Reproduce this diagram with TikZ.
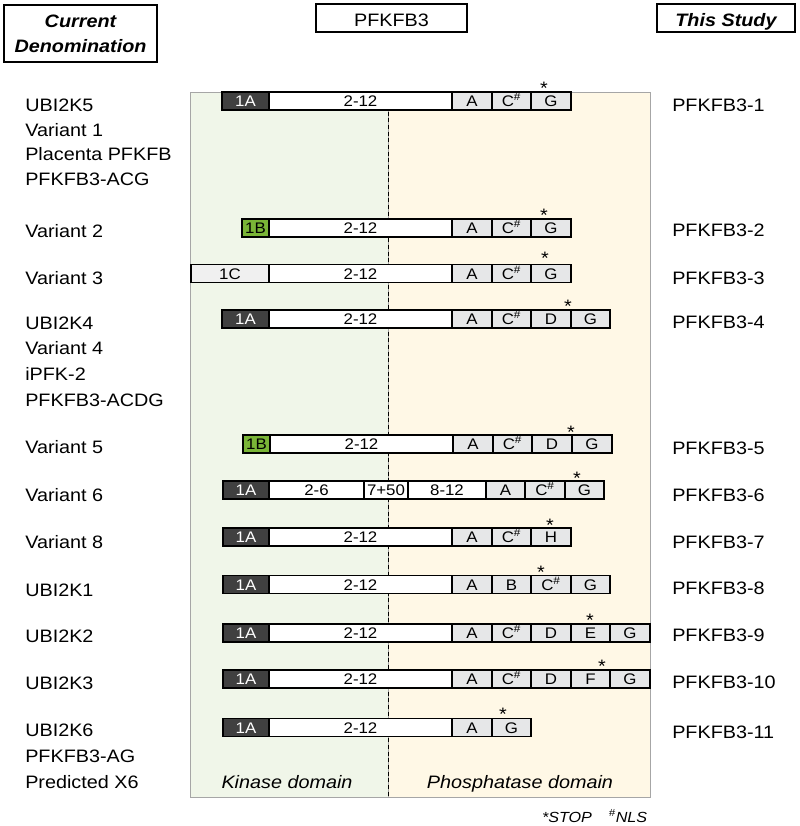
\documentclass[tikz,border=0pt]{standalone}
\usepackage{fontspec}
\setmainfont{Liberation Sans}[FakeStretch=1.1]
\usetikzlibrary{positioning}
\definecolor{kinbg}{RGB}{240,246,233}
\definecolor{phosbg}{RGB}{255,248,230}
\definecolor{exdark}{RGB}{64,64,64}
\definecolor{exgreen}{RGB}{122,181,55}
\definecolor{exgray}{RGB}{230,231,232}
\definecolor{exlight}{RGB}{240,240,240}
\tikzset{
  exon/.style={draw=black, line width=0.9pt, minimum height=13.5pt, inner sep=0pt, font=\fontsize{11.5}{12}\selectfont, text height=8.3pt, text depth=0pt},
  darkexon/.style={exon, fill=exdark, text=white},
  greenexon/.style={exon, fill=exgreen},
  lightexon/.style={exon, fill=exlight},
  coreexon/.style={exon, fill=white},
  altexon/.style={exon, fill=exgray},
  namelabel/.style={anchor=base west, inner sep=0pt, align=left, font=\fontsize{13.5}{18.5}\selectfont},
  stopmark/.style={inner sep=0pt, font=\fontsize{13.5}{14}\selectfont},
  headbox/.style={draw=black, line width=1pt, inner sep=0pt, align=center, font=\fontsize{13.5}{18.75}\selectfont},
  domainbox/.style={draw=gray!70, minimum height=528.75pt, inner sep=0pt},
  domainlabel/.style={anchor=base, inner sep=0pt, font=\fontsize{13.5}{15}\selectfont\itshape},
  footnote/.style={anchor=base, inner sep=0pt, font=\fontsize{11}{12}\selectfont\itshape}
}
\newcommand{\nls}{\textsuperscript{\#}}
\newcommand{\stopstar}{\raisebox{-0.42em}[0.3em][0pt]{*}}
% name, style, left x, right x, y, text
\newcommand{\exon}[6]{\node[#2, minimum width={((#4)-(#3))*0.75pt}] (#1) at ({((#3)+(#4))/2},#5) {#6};}

\begin{document}
\begin{tikzpicture}[x=0.75pt, y=-0.75pt]
  \useasboundingbox (0,0) rectangle (800,826);
  % headers
  \node[headbox, minimum width=114.75pt, minimum height=42.75pt, font=\fontsize{13.5}{18.75}\selectfont\bfseries\itshape] (curhead) at (80.5,33.5) {Current\\Denomination};
  \node[headbox, minimum width=113.25pt, minimum height=21pt, text height=12.5pt, text depth=0pt] (genehead) at (391.5,18) {PFKFB3};
  \node[headbox, minimum width=103.5pt, minimum height=21pt, text height=12.5pt, text depth=0pt, font=\fontsize{13.5}{18.75}\selectfont\bfseries\itshape] (studyhead) at (726,18) {This Study};

  % domains
  \node[domainbox, fill=kinbg, minimum width=148.5pt] (kin) at (289,444.5) {};
  \node[domainbox, fill=phosbg, minimum width=196.5pt] (phos) at (519,444.5) {};
  \draw[line width=0.9pt, dash pattern=on 3pt off 2pt] (kin.north east) -- (kin.south east);
  \node[domainlabel] (kinlab) at (287,788) {Kinase domain};
  \node[domainlabel] (phoslab) at (520,788) {Phosphatase domain};

  % row 1
  \exon{a1}{darkexon}{222}{269}{101}{1A} \exon{b1}{coreexon}{269}{452}{101}{2-12}
  \exon{c1}{altexon}{452}{492}{101}{A} \exon{d1}{altexon}{492}{531}{101}{C\nls} \exon{e1}{altexon}{531}{571}{101}{G}
  \node[stopmark] (s1) at (544,84) {\stopstar};
  % row 2
  \exon{a2}{greenexon}{242}{269}{228}{1B} \exon{b2}{coreexon}{269}{452}{228}{2-12}
  \exon{c2}{altexon}{452}{492}{228}{A} \exon{d2}{altexon}{492}{531}{228}{C\nls} \exon{e2}{altexon}{531}{571}{228}{G}
  \node[stopmark] (s2) at (544,211) {\stopstar};
  % row 3
  \exon{a3}{lightexon}{191}{269}{273.5}{1C} \exon{b3}{coreexon}{269}{452}{273.5}{2-12}
  \exon{c3}{altexon}{452}{492}{273.5}{A} \exon{d3}{altexon}{492}{531}{273.5}{C\nls} \exon{e3}{altexon}{531}{571}{273.5}{G}
  \node[stopmark] (s3) at (545,254) {\stopstar};
  % row 4
  \exon{a4}{darkexon}{222}{269}{319}{1A} \exon{b4}{coreexon}{269}{452}{319}{2-12}
  \exon{c4}{altexon}{452}{492}{319}{A} \exon{d4}{altexon}{492}{531}{319}{C\nls} \exon{e4}{altexon}{531}{571}{319}{D}
  \exon{f4}{altexon}{571}{610}{319}{G}
  \node[stopmark] (s4) at (568,302) {\stopstar};
  % row 5
  \exon{a5}{greenexon}{243}{270}{444}{1B} \exon{b5}{coreexon}{270}{453}{444}{2-12}
  \exon{c5}{altexon}{453}{493}{444}{A} \exon{d5}{altexon}{493}{532}{444}{C\nls} \exon{e5}{altexon}{532}{572}{444}{D}
  \exon{f5}{altexon}{572}{612}{444}{G}
  \node[stopmark] (s5) at (571,428) {\stopstar};
  % row 6
  \exon{a6}{darkexon}{223}{269}{490}{1A} \exon{b6}{coreexon}{269}{364}{490}{2-6}
  \exon{g6}{coreexon}{364}{408}{490}{7+50} \exon{h6}{coreexon}{408}{486}{490}{8-12}
  \exon{c6}{altexon}{486}{525}{490}{A} \exon{d6}{altexon}{525}{565}{490}{C\nls} \exon{e6}{altexon}{565}{604}{490}{G}
  \node[stopmark] (s6) at (577,474) {\stopstar};
  % row 7
  \exon{a7}{darkexon}{223}{269}{537}{1A} \exon{b7}{coreexon}{269}{452}{537}{2-12}
  \exon{c7}{altexon}{452}{492}{537}{A} \exon{d7}{altexon}{492}{531}{537}{C\nls} \exon{e7}{altexon}{531}{571}{537}{H}
  \node[stopmark] (s7) at (550,521) {\stopstar};
  % row 8
  \exon{a8}{darkexon}{223}{269}{584.5}{1A} \exon{b8}{coreexon}{269}{452}{584.5}{2-12}
  \exon{c8}{altexon}{452}{492}{584.5}{A} \exon{d8}{altexon}{492}{531}{584.5}{B} \exon{e8}{altexon}{531}{571}{584.5}{C\nls}
  \exon{f8}{altexon}{571}{610}{584.5}{G}
  \node[stopmark] (s8) at (541,568) {\stopstar};
  % row 9
  \exon{a9}{darkexon}{223}{269}{633}{1A} \exon{b9}{coreexon}{269}{452}{633}{2-12}
  \exon{c9}{altexon}{452}{492}{633}{A} \exon{d9}{altexon}{492}{531}{633}{C\nls} \exon{e9}{altexon}{531}{571}{633}{D}
  \exon{f9}{altexon}{571}{610}{633}{E} \exon{g9}{altexon}{610}{650}{633}{G}
  \node[stopmark] (s9) at (590,616) {\stopstar};
  % row 10
  \exon{a10}{darkexon}{223}{269}{679}{1A} \exon{b10}{coreexon}{269}{452}{679}{2-12}
  \exon{c10}{altexon}{452}{492}{679}{A} \exon{d10}{altexon}{492}{531}{679}{C\nls} \exon{e10}{altexon}{531}{571}{679}{D}
  \exon{f10}{altexon}{571}{610}{679}{F} \exon{g10}{altexon}{610}{650}{679}{G}
  \node[stopmark] (s10) at (602,662) {\stopstar};
  % row 11
  \exon{a11}{darkexon}{223}{269}{727.5}{1A} \exon{b11}{coreexon}{269}{452}{727.5}{2-12}
  \exon{c11}{altexon}{452}{492}{727.5}{A} \exon{d11}{altexon}{492}{531}{727.5}{G}
  \node[stopmark] (s11) at (503,710) {\stopstar};

  % current names (multi-line: base = last line)
  \node[namelabel] (cur1) at (25,185.4) {UBI2K5\\Variant 1\\Placenta PFKFB\\PFKFB3-ACG};
  \node[namelabel] (cur2) at (25,237.5) {Variant 2};
  \node[namelabel] (cur3) at (25,284.5) {Variant 3};
  \node[namelabel, font=\fontsize{13.5}{19.2}\selectfont] (cur4) at (25,406) {UBI2K4\\Variant 4\\iPFK-2\\PFKFB3-ACDG};
  \node[namelabel] (cur5) at (25,453.5) {Variant 5};
  \node[namelabel] (cur6) at (25,501) {Variant 6};
  \node[namelabel] (cur7) at (25,548.5) {Variant 8};
  \node[namelabel] (cur8) at (25,596) {UBI2K1};
  \node[namelabel] (cur9) at (25,642.5) {UBI2K2};
  \node[namelabel] (cur10) at (25,689.5) {UBI2K3};
  \node[namelabel, font=\fontsize{13.5}{19.5}\selectfont] (cur11) at (25,788) {UBI2K6\\PFKFB3-AG\\Predicted X6};

  % new names
  \node[namelabel] (new1) at (672,111.4) {PFKFB3-1};
  \node[namelabel] (new2) at (672,236.4) {PFKFB3-2};
  \node[namelabel] (new3) at (672,284.4) {PFKFB3-3};
  \node[namelabel] (new4) at (672,328.4) {PFKFB3-4};
  \node[namelabel] (new5) at (672,454.4) {PFKFB3-5};
  \node[namelabel] (new6) at (672,501.4) {PFKFB3-6};
  \node[namelabel] (new7) at (672,548.4) {PFKFB3-7};
  \node[namelabel] (new8) at (672,594.4) {PFKFB3-8};
  \node[namelabel] (new9) at (672,641.4) {PFKFB3-9};
  \node[namelabel] (new10) at (672,688.4) {PFKFB3-10};
  \node[namelabel] (new11) at (672,738.4) {PFKFB3-11};

  \node[footnote] (stopnote) at (567,822) {*STOP};
  \node[footnote] (nlsnote) at (628,822) {\textsuperscript{\#}NLS};
\end{tikzpicture}
\end{document}
